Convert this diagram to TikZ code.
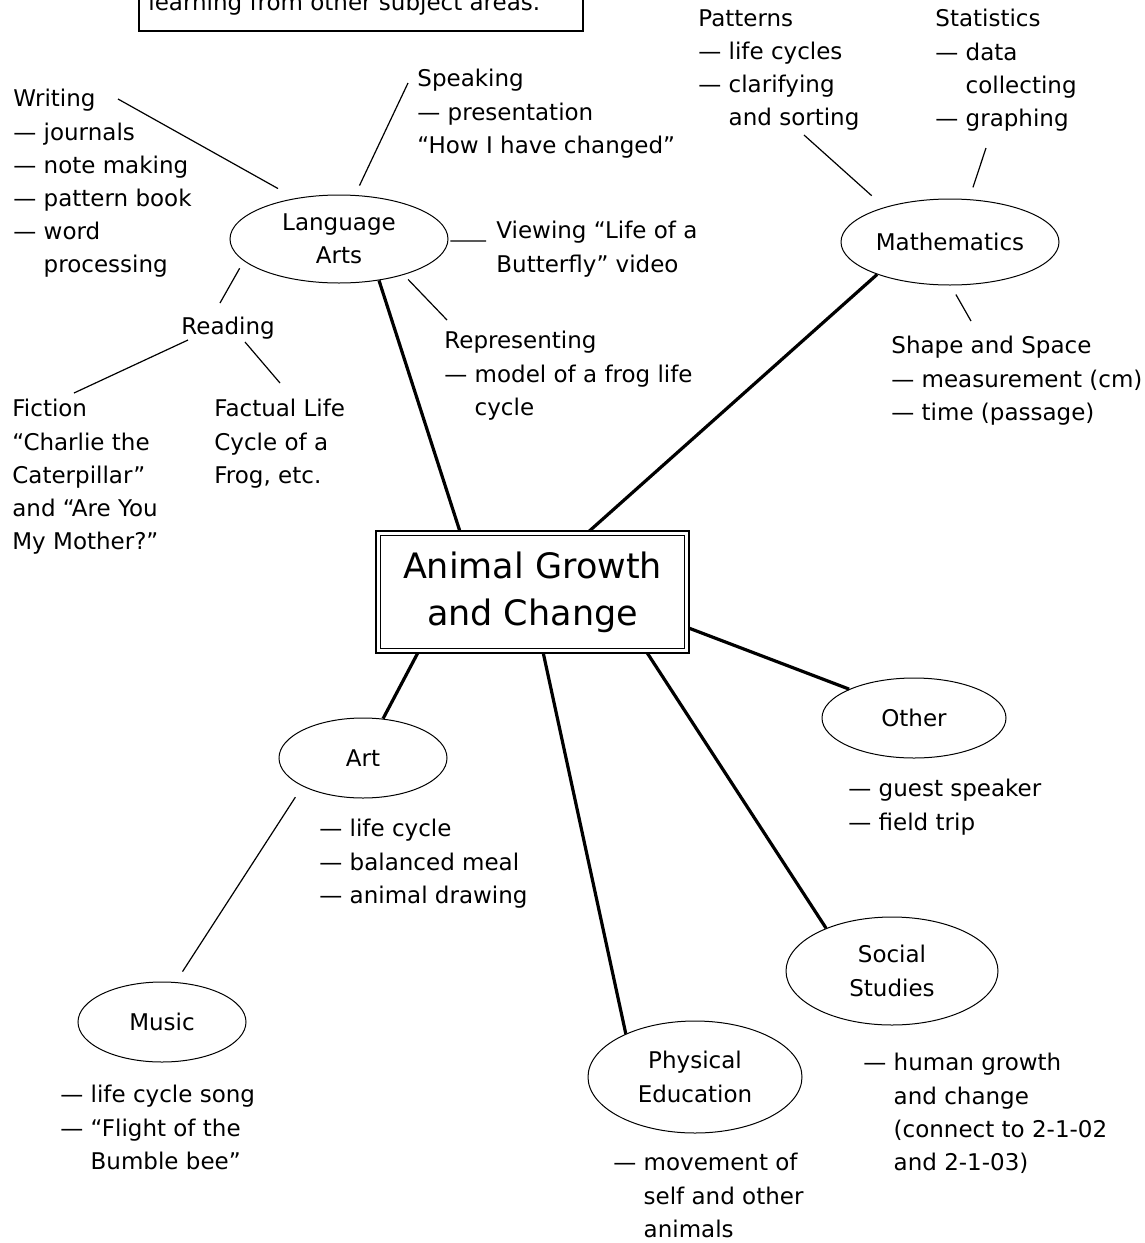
\documentclass[tikz,border=0pt]{standalone}
\usepackage{fontspec}
\setmainfont{DejaVu Sans}
\usetikzlibrary{shapes.geometric}

\newcommand\twigfont{\fontsize{11.5}{16.6}\selectfont}
\newcommand\hubfont{\fontsize{17.5}{23.5}\selectfont}

\tikzset{
    branch/.style={ellipse,draw,line width=.5pt,inner sep=0pt,align=center,font=\twigfont},
    leaf/.style={anchor=north west,inner sep=0pt,align=left,font=\twigfont,execute at begin node=\strut},
    trunk/.style={line width=1.6pt},
    twig/.style={line width=.6pt}
}

\begin{document}
\begin{tikzpicture}[x=.5pt,y=-.5pt]
    \useasboundingbox (0,0) rectangle (1145,1243);
    \fill[white] (0,0) rectangle (1145,1243);
    % note box cut by the page edge
    \node[draw,line width=.6pt,outer sep=0pt,anchor=south west,minimum width=222pt,minimum height=50pt] (note) at (139,31) {};
    \node[anchor=base west,inner sep=0pt,font=\twigfont] (notetext) at (148,10) {learning from other subject areas.};
    % centre
    \node[draw,line width=1.4pt,outer sep=0pt,minimum width=156.5pt,minimum height=61pt,align=center,font=\hubfont] (hub) at (532.5,592) {Animal Growth\\and Change};
    \draw[line width=.6pt] ([shift={(4.5,4.5)}]hub.north west) rectangle ([shift={(-4.5,-4.5)}]hub.south east);
    % subjects
    \node[branch,minimum width=109pt,minimum height=44pt] (la) at (339,239) {Language\\Arts};
    \node[branch,minimum width=109pt,minimum height=43pt] (math) at (950,242) {Mathematics};
    \node[branch,minimum width=84pt,minimum height=40pt] (art) at (363,758) {Art};
    \node[branch,minimum width=84pt,minimum height=40pt] (music) at (162,1022) {Music};
    \node[branch,minimum width=92pt,minimum height=40pt] (other) at (914,718) {Other};
    \node[branch,minimum width=106pt,minimum height=54pt] (ss) at (892,971) {Social\\Studies};
    \node[branch,minimum width=107pt,minimum height=56pt] (pe) at (695,1077) {Physical\\Education};
    \foreach \h/\e in {140/la.-46,47/math.204,-13/other.156,-28/ss.147,-80/pe.148,-152/art.63}
        \draw[trunk] (hub.\h) -- (\e);
    % language arts
    \node[leaf] (writing) at (13,89) {Writing\\— journals\\— note making\\— pattern book\\— word\\\phantom{— }processing};
    \node[leaf] (speaking) at (417,69) {Speaking\\— presentation\\“How I have changed”};
    \node[leaf] (viewing) at (496,221) {Viewing “Life of a\\Butterfly” video};
    \node[leaf] (representing) at (444,331) {Representing\\— model of a frog life\\\phantom{— }cycle};
    \node[leaf] (reading) at (181,311) {Reading};
    \node[leaf] (fiction) at (12,399) {Fiction\\“Charlie the\\Caterpillar”\\and “Are You\\My Mother?”};
    \node[leaf] (factual) at (214,399) {Factual Life\\Cycle of a\\Frog, etc.};
    \coordinate (wr-end) at (118,99);
    \coordinate (sp-end) at (408,83);
    \coordinate (vw-end) at (486,241);
    \coordinate (rp-end) at (447,320);
    \coordinate (rd-top) at (220,303);
    \coordinate (rd-fic) at (188,340);
    \coordinate (fic-end) at (74,393);
    \coordinate (rd-fac) at (245,342);
    \coordinate (fac-end) at (280,383);
    \draw[twig,shorten <=9.9pt] (la.137) -- (wr-end);
    \draw[twig,shorten <=5.2pt] (la.70) -- (sp-end);
    \draw[twig,shorten <=1pt] (la.-1) -- (vw-end);
    \draw[twig,shorten <=3.2pt] (la.-29) -- (rp-end);
    \draw[twig,shorten <=4.2pt] (la.193) -- (rd-top);
    \draw[twig] (rd-fic) -- (fic-end);
    \draw[twig] (rd-fac) -- (fac-end);
    % mathematics
    \node[leaf] (patterns) at (698,9) {Patterns\\— life cycles\\— clarifying\\\phantom{— }and sorting};
    \node[leaf] (statistics) at (935,9) {Statistics\\— data\\\phantom{— }collecting\\— graphing};
    \node[leaf] (shape) at (891,336) {Shape and Space\\— measurement (cm)\\— time (passage)};
    \coordinate (pt-end) at (804,135);
    \coordinate (st-end) at (986,148);
    \coordinate (sh-end) at (971,321);
    \draw[twig,shorten <=8.6pt] (math.152) -- (pt-end);
    \draw[twig,shorten <=6.2pt] (math.66) -- (st-end);
    \draw[twig,shorten <=5.2pt] (math.-89) -- (sh-end);
    % the rest
    \node[leaf] (artlist) at (319,819) {— life cycle\\— balanced meal\\— animal drawing};
    \node[leaf] (musiclist) at (60,1085) {— life cycle song\\— “Flight of the\\\phantom{— }Bumble bee”};
    \node[leaf] (otherlist) at (848,779) {— guest speaker\\— field trip};
    \node[leaf] (sslist) at (863,1053) {— human growth\\\phantom{— }and change\\\phantom{— }(connect to 2-1-02\\\phantom{— }and 2-1-03)};
    \node[leaf] (pelist) at (613,1153) {— movement of\\\phantom{— }self and other\\\phantom{— }animals};
    \draw[twig,shorten <=6.5pt,shorten >=6.2pt] (art.205) -- (music.71);
\end{tikzpicture}
\end{document}
